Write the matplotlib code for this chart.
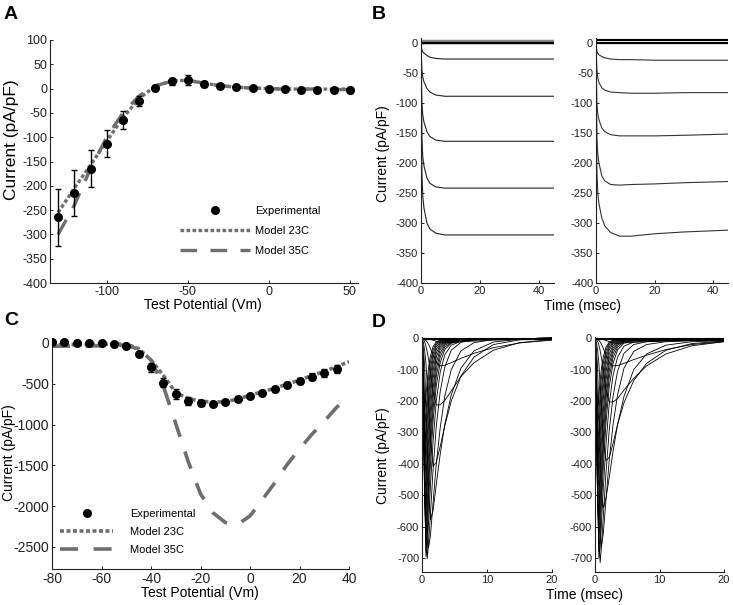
import matplotlib
matplotlib.use('Agg')
import matplotlib.pyplot as plt

plt.rcParams['font.family'] = ['Liberation Sans', 'DejaVu Sans']
plt.rcParams['axes.unicode_minus'] = False

# ---- panel A: steady-state I-V ----
vA = [-130, -120, -110, -100, -90, -80, -70, -60, -50, -40, -30, -20, -10, 0, 10, 20, 30, 40, 50]
expA = [-265, -215, -165, -113, -65, -25, 2, 15, 18, 10, 5, 3, 1, 0, -1, -2, -2, -3, -3]
errA = [58, 48, 38, 28, 18, 10, 5, 7, 10, 6, 3, 2, 2, 2, 2, 3, 3, 5, 7]
m23A = [-255, -205, -157, -108, -60, -20, 5, 16, 17, 11, 6, 3, 1, 0, -1, -1, -1, -1, -1]
m35A = [-300, -240, -165, -100, -50, -15, 6, 15, 17, 11, 6, 3, 1, 0, -1, -1, -1, -2, -2]

# ---- panel B: current traces (left: model, right: recording) ----
tB = [0, 0.15, 0.3, 0.6, 1, 2, 3, 5, 8, 12, 20, 30, 45]
tracesB1 = [
    [0, -7, -12, -15, -17, -21, -24, -26, -27, -27, -27, -27, -27],
    [0, -25, -45, -57, -65, -76, -82, -87, -89, -89, -89, -89, -89],
    [0, -55, -100, -120, -132, -148, -156, -162, -164, -164, -164, -164, -164],
    [0, -85, -160, -190, -205, -225, -234, -240, -242, -242, -242, -242, -242],
    [0, -110, -215, -255, -275, -300, -310, -317, -320, -320, -320, -320, -320],
]
flatB1 = [5, 4, 3, 2, 1, 0, -1]
tracesB2 = [
    [0, -8, -14, -18, -20, -23, -25, -27, -28, -28, -29, -29, -29],
    [0, -25, -45, -58, -66, -75, -79, -82, -83, -84, -84, -83, -83],
    [0, -60, -100, -118, -128, -142, -148, -153, -155, -155, -155, -154, -152],
    [0, -90, -160, -185, -200, -222, -230, -236, -237, -236, -235, -233, -231],
    [0, -120, -212, -250, -268, -292, -305, -316, -322, -322, -318, -315, -312],
]
flatB2 = [7, 4, 2, 0, -1]

# ---- panel C: peak I-V ----
vC = [-80, -75, -70, -65, -60, -55, -50, -45, -40, -35, -30, -25, -20, -15, -10, -5, 0, 5, 10, 15, 20, 25, 30, 35]
expC = [16, 8, 4, 0, 0, -8, -37, -135, -298, -486, -630, -710, -740, -750, -720, -690, -655, -610, -568, -515, -466, -413, -370, -322]
errC = [15, 12, 10, 10, 10, 10, 15, 25, 55, 60, 60, 45, 35, 25, 20, 25, 25, 30, 30, 30, 35, 40, 45, 50]
vCm = [-80, -75, -70, -65, -60, -55, -50, -45, -40, -35, -30, -25, -20, -15, -10, -5, 0, 5, 10, 15, 20, 25, 30, 35, 40]
m23C = [-20, -20, -20, -20, -18, -15, -15, -70, -210, -400, -610, -680, -715, -725, -720, -690, -640, -600, -555, -505, -455, -400, -350, -290, -230]
m35C = [-40, -40, -40, -38, -35, -30, -25, -80, -210, -530, -990, -1450, -1850, -2080, -2200, -2225, -2120, -1920, -1715, -1490, -1300, -1120, -960, -790, -640]

# ---- panel D: sodium current traces ----
tD = [0, 0.2, 0.4, 0.6, 0.8, 1.0, 1.3, 1.7, 2.2, 2.8, 3.5, 4.5, 6, 8, 11, 15, 20]
tracesD1 = [
    [0, 0, 0, -1, -1, -2, -3, -6, -10, -14, -15, -13, -11, -9, -6, -4, -2],
    [0, -1, -3, -7, -12, -19, -33, -53, -76, -88, -86, -78, -64, -48, -30, -15, -6],
    [0, -3, -11, -24, -43, -65, -108, -172, -213, -212, -198, -168, -122, -78, -38, -14, -4],
    [0, -12, -37, -78, -143, -205, -320, -408, -395, -345, -280, -200, -120, -60, -20, -5, -1],
    [0, -29, -87, -215, -350, -495, -578, -550, -465, -370, -275, -180, -95, -40, -12, -3, 0],
    [0, -54, -200, -400, -600, -668, -630, -525, -400, -285, -185, -100, -40, -14, -4, -1, 0],
    [0, -85, -317, -600, -703, -660, -560, -420, -280, -170, -92, -38, -13, -6, -2, -1, 0],
    [0, -120, -435, -695, -670, -590, -470, -330, -200, -108, -53, -22, -10, -5, -2, -1, 0],
    [0, -136, -476, -678, -625, -530, -400, -265, -150, -78, -36, -16, -9, -4, -2, -1, 0],
    [0, -150, -500, -640, -575, -475, -350, -225, -120, -60, -28, -14, -8, -4, -2, -1, 0],
    [0, -160, -510, -605, -530, -430, -310, -190, -98, -47, -22, -12, -7, -4, -2, -1, 0],
    [0, -170, -510, -560, -475, -380, -265, -160, -78, -36, -18, -10, -6, -3, -2, -1, 0],
    [0, -175, -500, -510, -420, -330, -225, -130, -60, -28, -14, -9, -5, -3, -2, -1, 0],
    [0, -180, -485, -455, -365, -280, -185, -104, -47, -22, -12, -8, -5, -3, -2, -1, 0],
    [0, -180, -450, -400, -315, -235, -152, -82, -36, -17, -10, -7, -4, -3, -2, -1, 0],
    [0, -175, -398, -345, -265, -195, -122, -64, -27, -13, -8, -6, -4, -3, -2, -1, 0],
    [0, -165, -348, -295, -222, -160, -97, -49, -20, -10, -7, -5, -4, -3, -2, -1, 0],
    [0, -150, -288, -240, -178, -125, -75, -37, -15, -8, -6, -5, -3, -2, -1, -1, 0],
    [0, -120, -228, -188, -137, -95, -56, -27, -11, -6, -5, -4, -3, -2, -1, -1, 0],
]
tracesD2 = [
    [0, 0, 0, -1, -2, -3, -4, -7, -11, -15, -16, -15, -13, -11, -9, -7, -6],
    [0, -1, -3, -7, -12, -19, -33, -53, -76, -88, -87, -80, -68, -54, -36, -20, -11],
    [0, -3, -10, -22, -40, -62, -105, -165, -203, -203, -192, -165, -128, -88, -50, -24, -11],
    [0, -12, -37, -80, -150, -215, -330, -390, -380, -335, -275, -205, -135, -80, -38, -17, -9],
    [0, -30, -95, -225, -370, -500, -540, -510, -445, -360, -275, -185, -100, -50, -22, -11, -8],
    [0, -60, -220, -430, -620, -665, -620, -515, -390, -275, -180, -95, -42, -20, -11, -8, -7],
    [0, -95, -350, -640, -715, -665, -565, -430, -295, -185, -105, -48, -20, -11, -8, -7, -6],
    [0, -130, -460, -700, -668, -590, -475, -340, -210, -118, -60, -25, -12, -8, -7, -6, -6],
    [0, -150, -500, -680, -620, -530, -405, -270, -155, -80, -37, -15, -9, -7, -6, -6, -5],
    [0, -165, -520, -640, -570, -475, -355, -230, -125, -62, -28, -12, -8, -6, -6, -5, -5],
    [0, -175, -525, -600, -525, -430, -315, -195, -102, -48, -22, -10, -7, -6, -5, -5, -5],
    [0, -180, -520, -555, -470, -380, -270, -165, -82, -38, -17, -9, -6, -5, -5, -5, -5],
    [0, -185, -505, -505, -415, -330, -230, -135, -65, -30, -14, -8, -6, -5, -5, -5, -4],
    [0, -190, -485, -450, -360, -280, -190, -108, -50, -23, -11, -7, -5, -5, -4, -4, -4],
    [0, -190, -450, -395, -310, -235, -155, -85, -38, -17, -9, -6, -5, -4, -4, -4, -4],
    [0, -185, -395, -340, -260, -195, -125, -66, -29, -13, -7, -5, -4, -4, -4, -4, -4],
    [0, -175, -345, -290, -218, -160, -100, -51, -22, -10, -6, -5, -4, -4, -4, -4, -3],
    [0, -160, -285, -235, -175, -125, -77, -39, -16, -8, -5, -4, -4, -3, -3, -3, -3],
    [0, -130, -225, -185, -135, -95, -58, -29, -12, -6, -4, -3, -3, -3, -3, -3, -3],
]
flatD = [0, -1, -2]

GRAY = '#6e6e6e'
W, H = 733, 605


def box(l, t, r, b):
    # pixel rectangle -> figure fraction
    return [l / W, 1 - b / H, (r - l) / W, (b - t) / H]


def style(ax, fs):
    for s in ['top', 'right']:
        ax.spines[s].set_visible(False)
    for s in ['left', 'bottom']:
        ax.spines[s].set_linewidth(0.8)
        ax.spines[s].set_color('#222222')
    ax.tick_params(direction='in', length=2.5, width=0.7, labelsize=fs, pad=2, colors='#222222')
    ax.tick_params(labelcolor='#222222')


fig = plt.figure(figsize=(W / 100, H / 100), dpi=100)

# A
axA = fig.add_axes(box(50, 40, 358, 283))
axA.errorbar(vA, expA, yerr=errA, fmt='none', ecolor='black', elinewidth=1.0, capsize=2.5, capthick=1.0, zorder=3)
pA, = axA.plot(vA, expA, 'o', color='black', markersize=5.5, zorder=4, label='Experimental')
l23, = axA.plot(vA, m23A, color=GRAY, lw=2.4, linestyle=(0, (1.1, 0.7)), zorder=2, label='Model 23C')
l35, = axA.plot(vA, m35A, color=GRAY, lw=2.4, linestyle=(0, (5, 4)), zorder=2, label='Model 35C')
axA.set_xlim(-135, 55)
axA.set_ylim(-400, 100)
axA.set_yticks(range(-400, 101, 50))
axA.set_xticks([-100, -50, 0, 50])
style(axA, 9)
axA.legend(handles=[pA, l23, l35], loc='upper left', bbox_to_anchor=(180 / W, 1 - 206 / H),
           bbox_transform=fig.transFigure, frameon=False, fontsize=8, handlelength=6.3,
           handletextpad=0.45, labelspacing=0.9, borderpad=0, borderaxespad=0, numpoints=1)

# B
axB1 = fig.add_axes(box(421, 38, 554, 283))
axB2 = fig.add_axes(box(596, 38, 728, 283))
for y in flatB1:
    axB1.plot([tB[0], tB[-1]], [y, y], color='black' if y <= 1 else '#888888', lw=0.9)
for tr in tracesB1:
    axB1.plot(tB, tr, color='#222222', lw=0.8)
for y in flatB2:
    axB2.plot([tB[0], tB[-1]], [y, y], color='black', lw=0.8)
for tr in tracesB2:
    axB2.plot(tB, tr, color='#333333', lw=0.8)
for ax in (axB1, axB2):
    ax.set_xlim(0, 45)
    ax.set_ylim(-400, 8)
    ax.set_yticks(range(-400, 1, 50))
    ax.set_xticks([0, 20, 40])
    style(ax, 8)

# C
axC = fig.add_axes(box(52, 338, 349, 569))
axC.errorbar(vC, expC, yerr=errC, fmt='none', ecolor='black', elinewidth=1.0, capsize=2.5, capthick=1.0, zorder=3)
pC, = axC.plot(vC, expC, 'o', color='black', markersize=5.5, zorder=4, label='Experimental')
c23, = axC.plot(vCm, m23C, color=GRAY, lw=2.6, linestyle=(0, (1.1, 0.7)), zorder=2, label='Model 23C')
c35, = axC.plot(vCm, m35C, color=GRAY, lw=2.6, linestyle=(0, (5, 4.3)), zorder=2, label='Model 35C')
axC.set_xlim(-80, 40)
axC.set_ylim(-2770, 60)
axC.set_yticks(range(-2500, 1, 500))
axC.set_xticks(range(-80, 41, 20))
style(axC, 10)
axC.legend(handles=[pC, c23, c35], loc='upper left', bbox_to_anchor=(60 / W, 1 - 509 / H),
           bbox_transform=fig.transFigure, frameon=False, fontsize=8, handlelength=4.8,
           handletextpad=1.5, labelspacing=0.7, borderpad=0, borderaxespad=0, numpoints=1)

# D
axD1 = fig.add_axes(box(422, 337, 552, 572))
axD2 = fig.add_axes(box(595, 337, 724, 572))
for ax, traces in ((axD1, tracesD1), (axD2, tracesD2)):
    for y in flatD:
        ax.plot([tD[0], tD[-1]], [y, y], color='black', lw=0.8)
    for tr in traces:
        ax.plot(tD, tr, color='black', lw=0.6)
    ax.set_xlim(0, 20)
    ax.set_ylim(-745, 4)
    ax.set_yticks(range(-700, 1, 100))
    ax.set_xticks([0, 10, 20])
    style(ax, 8)

# axis titles and panel letters
fig.text(12 / W, 1 - 140 / H, 'Current (pA/pF)', rotation=90, ha='center', va='center', fontsize=12.5)
fig.text(203 / W, 1 - 305 / H, 'Test Potential (Vm)', ha='center', va='center', fontsize=10)
fig.text(383 / W, 1 - 154 / H, 'Current (pA/pF)', rotation=90, ha='center', va='center', fontsize=10)
fig.text(583 / W, 1 - 306 / H, 'Time (msec)', ha='center', va='center', fontsize=10)
fig.text(9 / W, 1 - 453 / H, 'Current (pA/pF)', rotation=90, ha='center', va='center', fontsize=10)
fig.text(200 / W, 1 - 593 / H, 'Test Potential (Vm)', ha='center', va='center', fontsize=10)
fig.text(383 / W, 1 - 456 / H, 'Current (pA/pF)', rotation=90, ha='center', va='center', fontsize=10)
fig.text(585 / W, 1 - 595 / H, 'Time (msec)', ha='center', va='center', fontsize=10)

for letter, x, y in (('A', 4, 6), ('B', 372, 6), ('C', 4, 312), ('D', 372, 314)):
    fig.text(x / W, 1 - y / H, letter, ha='left', va='top', fontsize=14, fontweight='bold')

fig.savefig('out.png', dpi=100)
